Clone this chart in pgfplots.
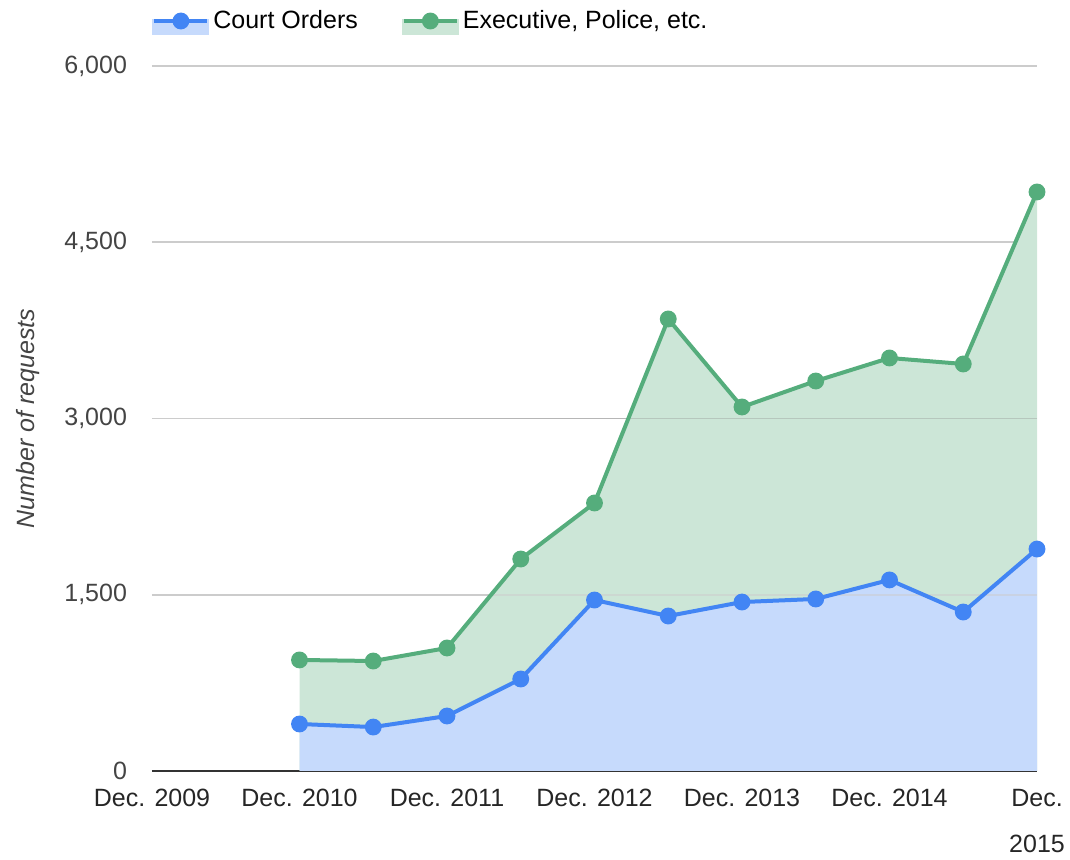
\documentclass[border=0pt]{standalone}
\usepackage{fontspec}
\setmainfont{Liberation Sans}
\usepackage{pgfplots}
\usepackage{pgfplotstable}
\pgfplotsset{compat=1.18}
\definecolor{blueline}{HTML}{4285F4}
\definecolor{bluefill}{HTML}{C6DAFC}
\definecolor{greenline}{HTML}{55AD7C}
\definecolor{greenfill}{HTML}{CCE6D7}
\definecolor{gridc}{HTML}{CCCCCC}
\definecolor{ticky}{HTML}{444444}
\pgfplotstableread{
x court exec
2 400 545
3 374 562
4 468 579
5 783 1021
6 1455 826
7 1319 2528
8 1438 1660
9 1464 1855
10 1626 1889
11 1353 2111
12 1889 3039
}\data
\pgfplotstablecreatecol[expr={\thisrow{court}+\thisrow{exec}}]{total}{\data}
\begin{document}
\begin{tikzpicture}
\begin{axis}[
  scale only axis,
  width=442.5pt, height=352.5pt,
  font=\fontsize{12.5}{15}\selectfont,
  xmin=0, xmax=12, ymin=0, ymax=6000,
  xtick={0,2,4,6,8,10,12},
  xticklabels={Dec. 2009, Dec. 2010, Dec. 2011, Dec. 2012, Dec. 2013, Dec. 2014, {Dec.\\[8pt]2015}},
  xticklabel style={align=center, text=black!85, yshift=-5.5pt},
  ytick={0,1500,3000,4500,6000},
  yticklabel style={text=ticky, xshift=-9pt},
  /pgf/number format/assume math mode=true,
  /pgf/number format/1000 sep={,},
  scaled y ticks=false,
  major tick length=0pt,
  axis lines*=left,
  separate axis lines,
  y axis line style={draw=none},
  x axis line style={draw=black!80, line width=1pt, -},
  ymajorgrids,
  grid style={gridc, line width=0.8pt},
  axis on top=false,
  ylabel={\itshape Number of requests},
  every axis y label/.style={at={(axis description cs:-0.140,0.5)}, rotate=90, anchor=center, text=ticky},
  legend columns=2,
  legend style={at={(axis description cs:0,1)}, anchor=west, yshift=22.5pt, draw=none, fill=none, inner sep=0pt,
    /tikz/every even column/.append style={column sep=20pt}},
  legend cell align=left,
  clip=false,
]
\addplot[fill=greenfill, draw=none, forget plot] table[x=x, y=total] {\data} \closedcycle;
\addplot[fill=bluefill, draw=none, forget plot] table[x=x, y=court] {\data} \closedcycle;
\pgfplotsextra{\draw[gridc, line width=0.8pt, opacity=0.5] (axis cs:2,1500) -- (axis cs:12,1500);
  \draw[gridc!70!black, line width=0.8pt, opacity=0.35] (axis cs:2,3000) -- (axis cs:12,3000);}
\addplot[blueline, line width=2pt, mark=*, mark size=3.2pt,
  legend image code/.code={\fill[bluefill] (0pt,-6pt) rectangle (26.5pt,0pt);
    \draw[blueline, line width=2pt] (0pt,0pt) -- (26.5pt,0pt);
    \fill[blueline] (13.25pt,0pt) circle (3.2pt);}]
  table[x=x, y=court] {\data};
\addlegendentry{Court Orders}
\addplot[greenline, line width=2pt, mark=*, mark size=3.2pt,
  legend image code/.code={\fill[greenfill] (0pt,-6pt) rectangle (26.5pt,0pt);
    \draw[greenline, line width=2pt] (0pt,0pt) -- (26.5pt,0pt);
    \fill[greenline] (13.25pt,0pt) circle (3.2pt);}]
  table[x=x, y=total] {\data};
\addlegendentry{Executive, Police, etc.}
\end{axis}
\pgfresetboundingbox
\path (current axis.south west) ++(-76pt,-44.5pt) coordinate (bbsw);
\path (current axis.north east) ++(16.5pt,33pt) coordinate (bbne);
\path[use as bounding box] (bbsw) rectangle (bbne);
\end{tikzpicture}
\end{document}
